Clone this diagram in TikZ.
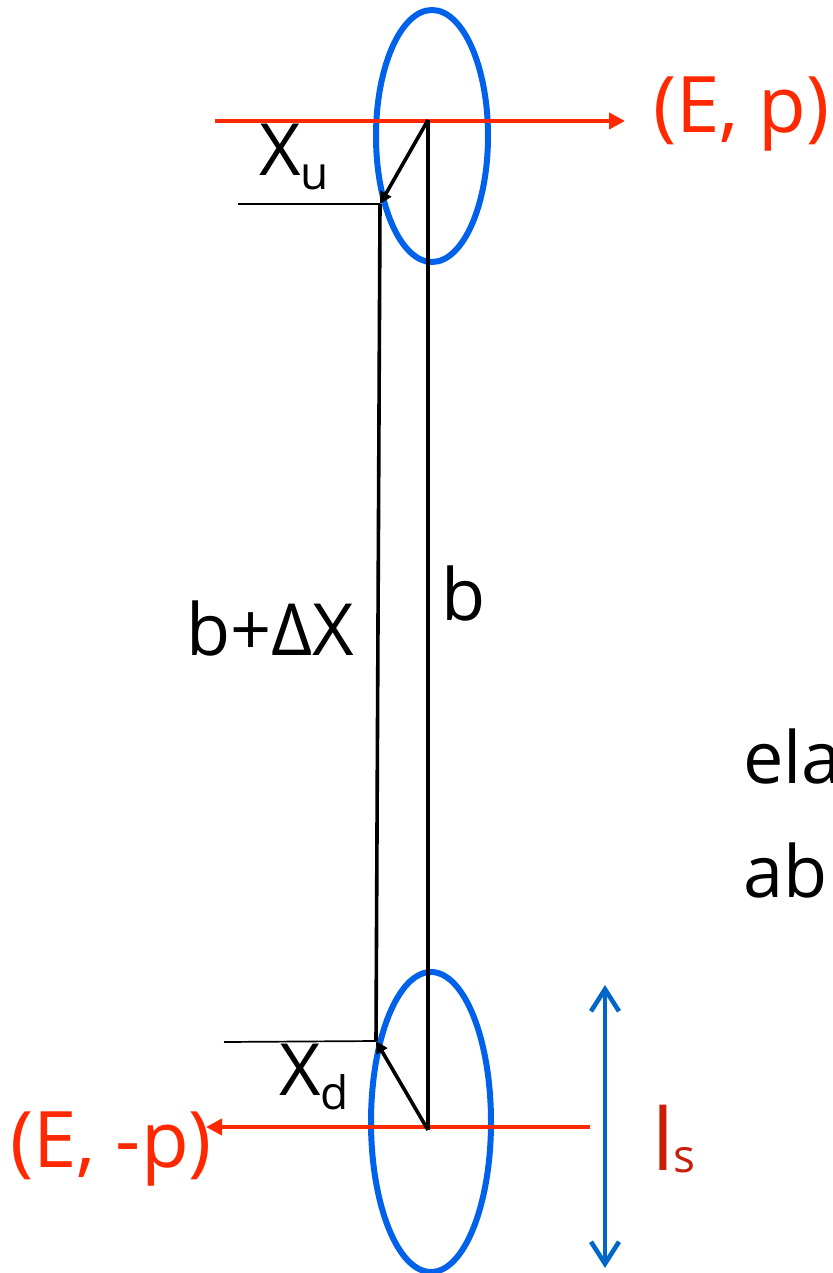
\documentclass[tikz,border=0pt]{standalone}
\usepackage{fontspec}
\setmainfont{Open Sans}
\usetikzlibrary{arrows.meta}
\definecolor{beamred}{RGB}{255,40,0}
\definecolor{ringblue}{RGB}{0,98,235}
\definecolor{lsblue}{RGB}{0,102,200}
\definecolor{lsred}{RGB}{200,30,10}
\tikzset{
  ring/.style={draw=ringblue, line width=6pt},
  beam/.style={draw=beamred, line width=4.6pt, -{Triangle[length=16pt,width=16pt]}},
  stroke/.style={draw=black, line width=3.6pt},
  vec/.style={draw=black, line width=3.6pt, -{Triangle[length=12pt,width=12pt]}},
  thin/.style={draw=black, line width=1.7pt},
  lbl/.style={inner sep=0pt, anchor=base west, font=\fontsize{72}{80}\selectfont},
  redlbl/.style={lbl, text=beamred, font=\fontsize{78}{86}\selectfont}
}
\newcommand{\mysub}[2][-14pt]{{\fontsize{46}{50}\selectfont\raisebox{#1}{#2}}}
\begin{document}
\begin{tikzpicture}[x=1pt,y=-1pt]
\useasboundingbox (0,0) rectangle (832,1273);
\clip (0,0) rectangle (832,1273);
% rings
\draw[ring] (432,136) ellipse [x radius=56pt, y radius=126pt];
\draw[ring] (431,1122) ellipse [x radius=60pt, y radius=150pt];
% coordinates
\coordinate (topC) at (428,120);
\coordinate (botC) at (428,1130);
\coordinate (xu) at (380,204);
\coordinate (xd) at (376,1041);
\coordinate (tl) at (238,204);
\coordinate (bl) at (224,1042);
\coordinate (rs) at (215,121);
\coordinate (re) at (625,121);
\coordinate (bs) at (590,1127);
\coordinate (be) at (206,1127);
\coordinate (ls1) at (605,985);
\coordinate (ls2) at (605,1268);
% beams
\draw[beam] (rs) -- (re);
\draw[beam] (bs) -- (be);
% geometry
\draw[stroke] (topC) -- (botC);
\draw[stroke] (xu) -- (xd);
\draw[thin] (tl) -- (xu);
\draw[thin] (bl) -- (xd);
\draw[vec] (topC) -- (xu);
\draw[vec] (botC) -- (xd);
% size arrow
\draw[draw=lsblue, line width=4.6pt, {Straight Barb[length=22pt,width=28pt]}-{Straight Barb[length=22pt,width=28pt]}] (ls1) -- (ls2);
% labels
\node[redlbl] (ep) at (653,133) {(E, p)};
\node[redlbl] (emp) at (10,1167) {(E, -p)};
\node[lbl] (Xu) at (259,176) {X\mysub{u}};
\node[lbl] (Xd) at (279,1095) {X\mysub{d}};
\node[lbl] (bdx) at (186,655) {b+ΔX};
\node[lbl] (b) at (441,620) {b};
\node[lbl, text=lsred, font=\fontsize{86}{90}\selectfont] (ls) at (652,1170) {l\mysub[-2pt]{s}};
\node[lbl] (ela) at (743,783) {ela};
\node[lbl] (ab) at (743,897) {ab};
\end{tikzpicture}
\end{document}
